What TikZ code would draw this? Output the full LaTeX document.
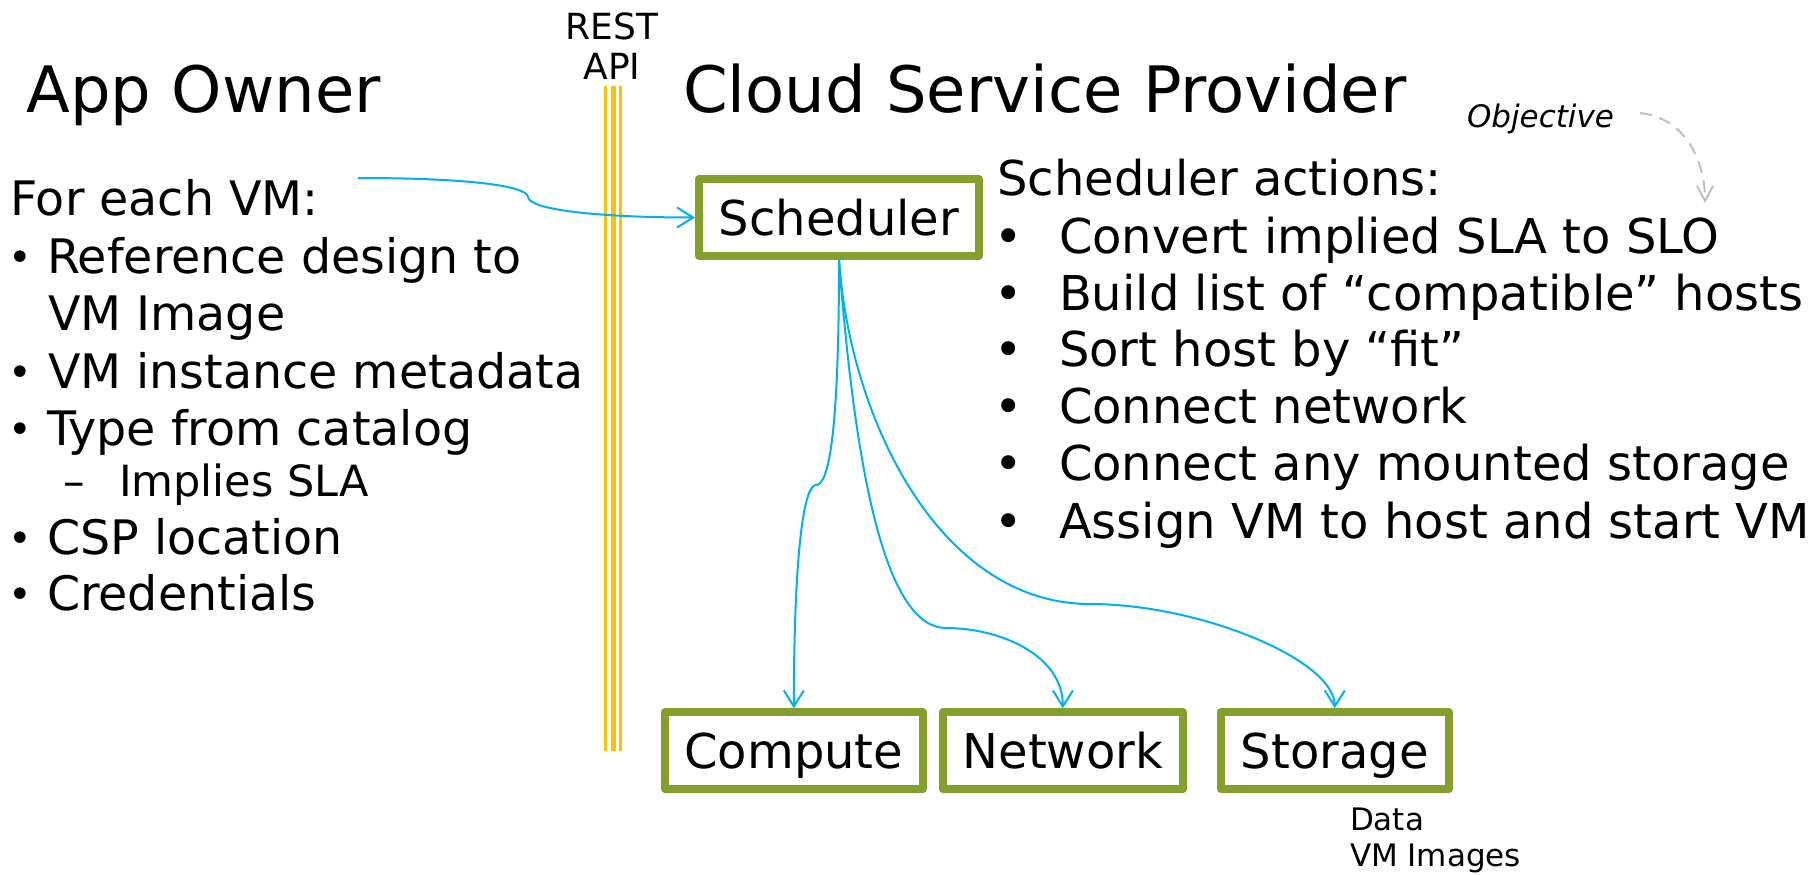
\documentclass[tikz,border=0pt]{standalone}
\usepackage{fontspec}
\setmainfont{DejaVu Sans}
\usetikzlibrary{arrows.meta}

\definecolor{boxgreen}{RGB}{131,160,42}
\definecolor{linkblue}{RGB}{0,176,240}
\definecolor{apigold}{RGB}{255,192,0}
\definecolor{hintgray}{RGB}{191,191,191}

\newcommand{\fsz}[1]{\fontsize{#1pt}{#1pt}\selectfont}

\tikzset{
  txt/.style={inner sep=0pt, outer sep=0pt, anchor=base west},
  title/.style={txt, font=\fsz{64}},
  lefttxt/.style={txt, font=\fsz{47.5}},
  leftbullet/.style={txt, font=\fsz{40}},
  righttxt/.style={txt, font=\fsz{48}},
  compbox/.style={draw=boxgreen, line width=8pt, line join=round, fill=white,
    inner sep=0pt, outer sep=4pt, minimum height=77pt,
    text height=35pt, text depth=0pt, font=\fsz{48}},
  link/.style={draw=linkblue, line width=2pt,
    -{Straight Barb[length=16pt, width=20pt, line width=2pt]}},
  hint/.style={draw=hintgray, line width=2pt, dash pattern=on 12pt off 8pt,
    -{Straight Barb[length=15pt, width=16pt, line width=2pt]}},
  apiline/.style={draw=apigold}
}

\begin{document}
\begin{tikzpicture}[x=1pt, y=-1pt]
  \useasboundingbox (0,0) rectangle (1817,875);
  \fill[white] (0,0) rectangle (1817,875);

  % REST API boundary: thin / thick / thin gold rules
  \draw[apiline, line width=3.4pt] (605.7,86) -- (605.7,751);
  \draw[apiline, line width=5.3pt] (613.3,86) -- (613.3,751);
  \draw[apiline, line width=3pt]   (620.5,86) -- (620.5,751);
  \node[inner sep=0pt, anchor=base, font=\fsz{36}] (rest) at (612,40) {REST};
  \node[inner sep=0pt, anchor=base, font=\fsz{36}] (api)  at (612,80) {API};

  % Titles
  \node[title] (owner) at (26.5,112.7) {App Owner};
  \node[title] (csp)   at (683,112.7) {Cloud Service Provider};

  % App owner inputs
  \node[lefttxt] (foreach) at (10.3,215) {For each VM:};
  \node[leftbullet] (b1) at (9,271.3) {•};
  \node[lefttxt] (refdesign) at (47,273.3) {Reference design to};
  \node[lefttxt] (vmimage) at (48,330.7) {VM Image};
  \node[leftbullet] (b2) at (9,386.3) {•};
  \node[lefttxt] (metadata) at (48,388.3) {VM instance metadata};
  \node[leftbullet] (b3) at (9,443.7) {•};
  \node[lefttxt] (catalog) at (47,445.7) {Type from catalog};
  \node[txt, font=\fsz{43}] (dash) at (63,496.7) {–};
  \node[txt, font=\fsz{43}] (implies) at (119,496.7) {Implies SLA};
  \node[leftbullet] (b4) at (9,552) {•};
  \node[lefttxt] (location) at (47,554) {CSP location};
  \node[leftbullet] (b5) at (9,608.7) {•};
  \node[lefttxt] (creds) at (47,610.7) {Credentials};

  % Scheduler actions
  \node[righttxt] (actions) at (997.5,195) {Scheduler actions:};
  \node[righttxt] (r1) at (994,253.3) {•};
  \node[righttxt] (convert) at (1059,253.3) {Convert implied SLA to SLO};
  \node[righttxt] (r2) at (994,310) {•};
  \node[righttxt] (buildlist) at (1059,310) {Build list of “compatible” hosts};
  \node[righttxt] (r3) at (994,366.7) {•};
  \node[righttxt] (sortfit) at (1059,366.7) {Sort host by “fit”};
  \node[righttxt] (r4) at (994,423.3) {•};
  \node[righttxt] (connnet) at (1059,423.3) {Connect network};
  \node[righttxt] (r5) at (994,480) {•};
  \node[righttxt] (connsto) at (1059,480) {Connect any mounted storage};
  \node[righttxt] (r6) at (994,538) {•};
  \node[righttxt] (assign) at (1059,538) {Assign VM to host and start VM};

  % Objective note
  \node[txt, font=\fsz{31}\itshape] (obj) at (1467,127) {Objective};
  \coordinate (objtail) at (1640,113);
  \coordinate (objhead) at (1705,203);
  \draw[hint] (objtail) .. controls (1685,118) and (1705,160) .. (objhead);

  % Components
  \node[compbox, minimum width=280pt]   (sched)   at (839,217.5)  {Scheduler};
  \node[compbox, minimum width=257.7pt] (compute) at (793.8,750.8) {Compute};
  \node[compbox, minimum width=239.7pt] (network) at (1062.8,750.8) {Network};
  \node[compbox, minimum width=228pt]   (storage) at (1334.7,750.8) {Storage};

  \node[txt, font=\fsz{31}] (data)     at (1350,830.7) {Data};
  \node[txt, font=\fsz{31}] (vmimages) at (1350,866.7) {VM Images};

  % Request into the scheduler
  \coordinate (vmsrc) at (358,178);
  \draw[link] (vmsrc) .. controls (470,178) and (527,186) .. (528,197)
                      .. controls (529,210) and (600,217.5) .. (sched.west);

  % Scheduler to resources
  \draw[link] (sched.south) .. controls (839,440) and (828,485) .. (816,485)
                            .. controls (803,485) and (794,560) .. (compute.north);
  \draw[link] (sched.south) .. controls (855,470) and (885,628) .. (946,628)
                            .. controls (1000,628) and (1063,655) .. (network.north);
  \draw[link] (sched.south) .. controls (850,420) and (940,604) .. (1090,604)
                            .. controls (1200,604) and (1335,660) .. (storage.north);
\end{tikzpicture}
\end{document}
